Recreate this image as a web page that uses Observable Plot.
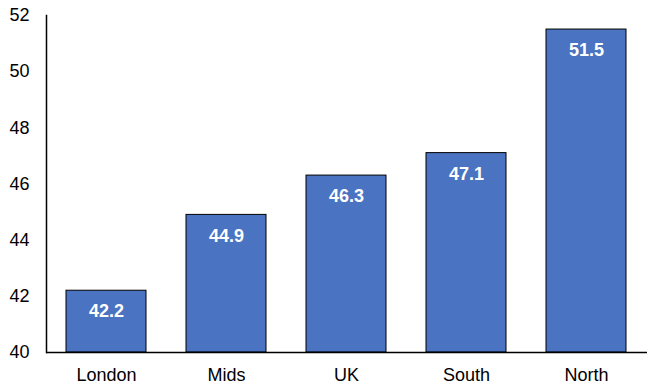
<!DOCTYPE html>
<html><head><meta charset="utf-8">
<script src="https://cdn.jsdelivr.net/npm/d3@7"></script>
<script src="https://cdn.jsdelivr.net/npm/@observablehq/plot@0.6"></script>
<style>body{margin:0;background:#fff;font-family:"Liberation Sans",Arial,sans-serif;}</style>
</head><body><div id="chart"></div>
<script>
const regions = ["London", "Mids", "UK", "South", "North"];
const values = [42.2, 44.9, 46.3, 47.1, 51.5];
const yTicks = [40, 42, 44, 46, 48, 50, 52];
const data = regions.map((r, i) => ({region: r, value: values[i]}));

const chart = Plot.plot({
  width: 654, height: 390,
  marginTop: 15, marginBottom: 38, marginLeft: 46, marginRight: 7,
  style: {fontFamily: '"Liberation Sans", Arial, sans-serif', fontSize: "18px", color: "#000", background: "#fff"},
  x: {domain: regions, paddingInner: 0.333, paddingOuter: 0.1667, label: null},
  y: {domain: [40, 52], label: null},
  marks: [
    Plot.barY(data, {x: "region", y1: 40, y2: "value", fill: "#4a73c1", stroke: "#000", strokeWidth: 1}),
    Plot.text(data, {x: "region", y: "value", text: d => d.value.toFixed(1), dy: 21, fill: "#fff", fontWeight: "bold", fontSize: 18}),
    Plot.axisY({ticks: yTicks, tickSize: 0, tickPadding: 17, fontSize: 18, label: null}),
    Plot.axisX({tickSize: 0, tickPadding: 16, fontSize: 18, label: null}),
    Plot.ruleY([40], {stroke: "#000", strokeWidth: 1.5}),
    Plot.frame({anchor: "left", stroke: "#000", strokeWidth: 1.5})
  ]
});
document.getElementById("chart").appendChild(chart);
</script></body></html>
